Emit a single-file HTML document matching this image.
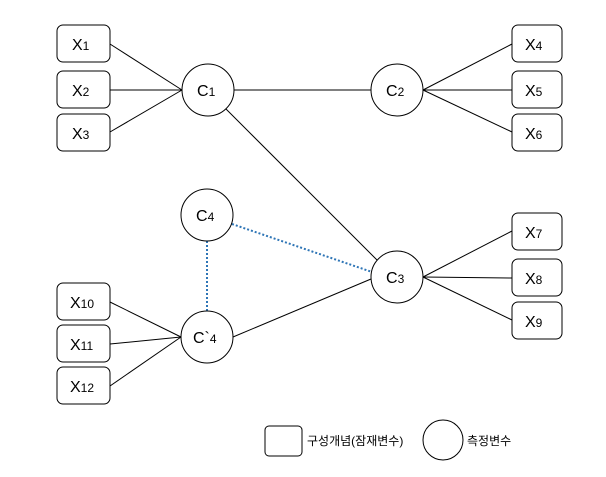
<!DOCTYPE html>
<html><head><meta charset="utf-8"><style>
body{margin:0;background:#fff;}
svg text{font-family:"Liberation Sans","Noto Sans CJK KR",sans-serif;fill:#000;}
</style></head><body>
<svg width="606" height="472" viewBox="0 0 606 472" xmlns="http://www.w3.org/2000/svg">
<g stroke="#000" stroke-width="1" fill="none">
<line x1="110" y1="44" x2="182" y2="90"/>
<line x1="110" y1="90" x2="182" y2="90"/>
<line x1="110" y1="132" x2="182" y2="90"/>
<line x1="234" y1="90" x2="371" y2="90"/>
<line x1="226" y1="109" x2="378" y2="261"/>
<line x1="423" y1="90" x2="512" y2="44"/>
<line x1="423" y1="90" x2="512" y2="90"/>
<line x1="423" y1="90" x2="512" y2="132"/>
<line x1="423" y1="277" x2="512" y2="231"/>
<line x1="423" y1="277" x2="512" y2="278"/>
<line x1="423" y1="277" x2="512" y2="320"/>
<line x1="110" y1="302" x2="181" y2="337"/>
<line x1="110" y1="344" x2="181" y2="337"/>
<line x1="110" y1="386" x2="181" y2="337"/>
<line x1="233" y1="337" x2="371" y2="279"/>
</g>
<g stroke="#2e75b6" stroke-width="2" stroke-dasharray="2,2" fill="none">
<line x1="232" y1="224" x2="372" y2="272"/>
<line x1="207" y1="241" x2="207" y2="311"/>
</g>
<g stroke="#000" stroke-width="1" fill="#fff">
<rect x="57" y="25" width="53" height="37" rx="6"/>
<rect x="57" y="71" width="53" height="37" rx="6"/>
<rect x="57" y="114" width="53" height="37" rx="6"/>
<rect x="512" y="25" width="50" height="37" rx="6"/>
<rect x="512" y="71" width="50" height="37" rx="6"/>
<rect x="512" y="114" width="50" height="37" rx="6"/>
<rect x="512" y="213" width="50" height="37" rx="6"/>
<rect x="512" y="259" width="50" height="37" rx="6"/>
<rect x="512" y="302" width="50" height="37" rx="6"/>
<rect x="57" y="283" width="53" height="37" rx="6"/>
<rect x="57" y="325" width="53" height="37" rx="6"/>
<rect x="57" y="367" width="53" height="37" rx="6"/>
<circle cx="208" cy="90" r="26"/>
<circle cx="397" cy="90" r="26"/>
<circle cx="207" cy="215" r="26"/>
<circle cx="397" cy="277" r="26"/>
<circle cx="207" cy="337" r="26"/>
<rect x="265" y="426" width="37" height="30" rx="4"/>
<circle cx="443" cy="440" r="20"/>
</g>
<g font-size="16">
<text x="72" y="50">X<tspan font-size="12">1</tspan></text>
<text x="72" y="96">X<tspan font-size="12">2</tspan></text>
<text x="72" y="139">X<tspan font-size="12">3</tspan></text>
<text x="525" y="50">X<tspan font-size="12">4</tspan></text>
<text x="525" y="96">X<tspan font-size="12">5</tspan></text>
<text x="525" y="139">X<tspan font-size="12">6</tspan></text>
<text x="525" y="238">X<tspan font-size="12">7</tspan></text>
<text x="525" y="284">X<tspan font-size="12">8</tspan></text>
<text x="525" y="327">X<tspan font-size="12">9</tspan></text>
<text x="70" y="308">X<tspan font-size="12">10</tspan></text>
<text x="70" y="350">X<tspan font-size="12">11</tspan></text>
<text x="70" y="392">X<tspan font-size="12">12</tspan></text>
<text x="197" y="96">C<tspan font-size="12">1</tspan></text>
<text x="386" y="96">C<tspan font-size="12">2</tspan></text>
<text x="196" y="221">C<tspan font-size="12">4</tspan></text>
<text x="386" y="283">C<tspan font-size="12">3</tspan></text>
<text x="193" y="343">C`<tspan font-size="12">4</tspan></text>
</g>
<text x="307" y="445" font-size="12">구성개념(잠재변수)</text>
<text x="467" y="445" font-size="12">측정변수</text>
</svg>
</body></html>
